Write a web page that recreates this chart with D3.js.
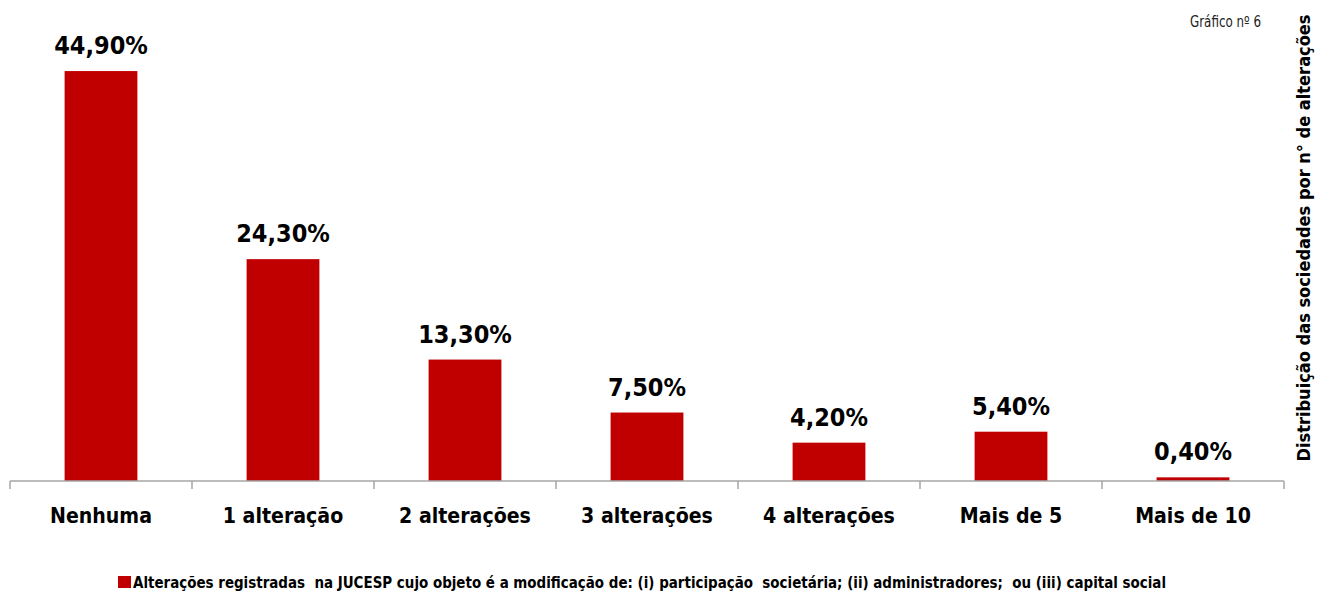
<!DOCTYPE html>
<html>
<head>
<meta charset="utf-8">
<script src="https://cdn.jsdelivr.net/npm/d3@7"></script>
<style>
  html, body { margin: 0; padding: 0; background: #fff; }
  svg { display: block; }
  text { font-family: "DejaVu Sans Condensed", "Liberation Sans Narrow", sans-serif; }
</style>
</head>
<body>
<svg id="chart" width="1320" height="591"></svg>
<script>
// Distribution of companies by number of registered changes
const categories = ["Nenhuma", "1 alteração", "2 alterações", "3 alterações", "4 alterações", "Mais de 5", "Mais de 10"];
const values = [44.9, 24.3, 13.3, 7.5, 4.2, 5.4, 0.4];
const valueLabels = ["44,90%", "24,30%", "13,30%", "7,50%", "4,20%", "5,40%", "0,40%"];
const seriesName = "Alterações registradas  na JUCESP cujo objeto é a modificação de: (i) participação  societária; (ii) administradores;  ou (iii) capital social";
const chartNote = "Gráfico nº 6";
const sideTitle = "Distribuição das sociedades por n° de alterações";

const svg = d3.select("#chart");
const barColor = "#C00000";

// Narrow a text element horizontally by a factor, keeping its anchor
function condense(sel, k) {
  sel.each(function () {
    const w = this.getComputedTextLength();
    d3.select(this).attr("textLength", w * k).attr("lengthAdjust", "spacingAndGlyphs");
  });
}

const x = d3.scaleBand()
  .domain(categories)
  .range([10, 1284])
  .paddingInner(0.6)
  .paddingOuter(0.3);

const y = d3.scaleLinear()
  .domain([0, 50])
  .range([481, 24.5]);

// Bars
svg.append("g")
  .selectAll("rect")
  .data(values)
  .join("rect")
  .attr("x", (d, i) => x(categories[i]))
  .attr("y", d => y(d))
  .attr("width", x.bandwidth())
  .attr("height", d => y(0) - y(d))
  .attr("fill", barColor);

// Value labels
svg.append("g")
  .selectAll("text")
  .data(values)
  .join("text")
  .attr("x", (d, i) => x(categories[i]) + x.bandwidth() / 2)
  .attr("y", d => y(d) - 17)
  .attr("text-anchor", "middle")
  .attr("font-size", 25)
  .attr("font-weight", "bold")
  .attr("fill", "#000")
  .text((d, i) => valueLabels[i]);

// Category axis with boundary ticks
const axisG = svg.append("g").attr("transform", `translate(0,${y(0)})`);
axisG.append("line")
  .attr("x1", 10).attr("x2", 1284)
  .attr("y1", 0).attr("y2", 0)
  .attr("stroke", "#A6A6A6").attr("stroke-width", 1.5);
const boundaries = d3.range(categories.length + 1).map(i => x.range()[0] + i * x.step());
axisG.selectAll("line.tick")
  .data(boundaries)
  .join("line")
  .attr("class", "tick")
  .attr("x1", d => d).attr("x2", d => d)
  .attr("y1", 0).attr("y2", 8)
  .attr("stroke", "#A6A6A6").attr("stroke-width", 1.5);
axisG.selectAll("text")
  .data(categories)
  .join("text")
  .attr("x", d => x(d) + x.bandwidth() / 2)
  .attr("y", 42)
  .attr("text-anchor", "middle")
  .attr("font-size", 22)
  .attr("font-weight", "bold")
  .attr("fill", "#000")
  .text(d => d)
  .call(condense, 0.96);

// Legend
const legend = svg.append("g").attr("transform", "translate(118,576)");
legend.append("rect").attr("x", 0).attr("y", 0).attr("width", 13).attr("height", 12).attr("fill", barColor);
legend.append("text")
  .attr("x", 15).attr("y", 11.5)
  .attr("font-size", 15.5)
  .attr("font-weight", "bold")
  .attr("fill", "#000")
  .attr("xml:space", "preserve")
  .style("white-space", "pre")
  .attr("textLength", 1033)
  .attr("lengthAdjust", "spacingAndGlyphs")
  .text(seriesName);

// Note, top right
svg.append("text")
  .attr("x", 1190).attr("y", 27)
  .attr("font-size", 16)
  .attr("fill", "#222")
  .attr("textLength", 71)
  .attr("lengthAdjust", "spacingAndGlyphs")
  .text(chartNote);

// Rotated side title
svg.append("text")
  .attr("transform", "translate(1310,238) rotate(-90)")
  .attr("text-anchor", "middle")
  .attr("font-size", 18.5)
  .attr("font-weight", "bold")
  .attr("fill", "#000")
  .attr("textLength", 447)
  .attr("lengthAdjust", "spacingAndGlyphs")
  .text(sideTitle);
</script>
</body>
</html>
